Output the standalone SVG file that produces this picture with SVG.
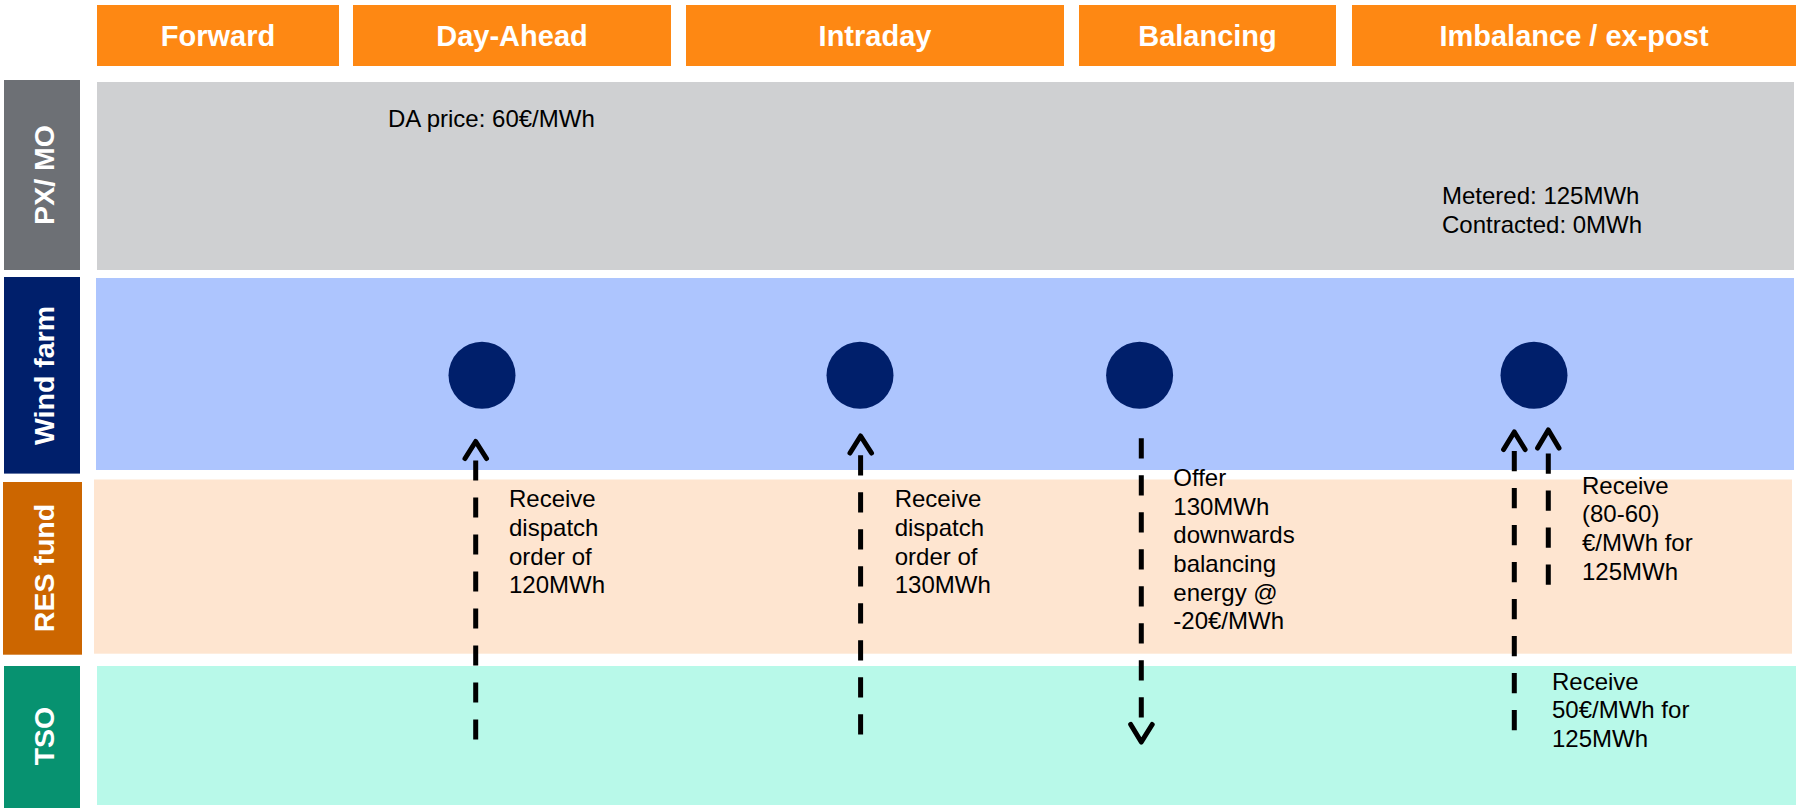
<svg xmlns="http://www.w3.org/2000/svg" width="1796" height="808" viewBox="0 0 1796 808">
<style>
.hdr{fill:#FE8813}
.ht{font-family:"Liberation Sans",Arial,sans-serif;font-weight:bold;font-size:29px;fill:#fff;text-anchor:middle}
.lt{font-family:"Liberation Sans",Arial,sans-serif;font-weight:bold;font-size:28.5px;fill:#fff;text-anchor:middle}
.bt{font-family:"Liberation Sans",Arial,sans-serif;font-size:24px;fill:#000}
.node{fill:#001F6B}
.dash{stroke:#000;stroke-width:5;fill:none;stroke-dasharray:20.2 16.8}
.head{stroke:#000;stroke-width:5;fill:none;stroke-linecap:round;stroke-linejoin:round}
</style>
<rect width="1796" height="808" fill="#fff"/>
<g id="phases">
<g id="ph-forward"><rect class="hdr" x="97" y="5" width="242" height="61"/><text class="ht" x="218" y="46">Forward</text></g>
<g id="ph-dayahead"><rect class="hdr" x="353" y="5" width="318" height="61"/><text class="ht" x="512" y="46">Day-Ahead</text></g>
<g id="ph-intraday"><rect class="hdr" x="686" y="5" width="378" height="61"/><text class="ht" x="875" y="46">Intraday</text></g>
<g id="ph-balancing"><rect class="hdr" x="1079" y="5" width="257" height="61"/><text class="ht" x="1207.5" y="46">Balancing</text></g>
<g id="ph-imbalance"><rect class="hdr" x="1352" y="5" width="444" height="61"/><text class="ht" x="1574" y="46">Imbalance / ex-post</text></g>
</g>
<g id="lane-pxmo">
<rect x="4" y="80" width="76" height="190" fill="#6D7075"/>
<rect x="97" y="82" width="1697" height="188" fill="#CFD0D2"/>
<text class="lt" transform="translate(54,175) rotate(-90)">PX/ MO</text>
<text class="bt" x="388" y="126.5">DA price: 60€/MWh</text>
<text class="bt" x="1442" y="203.5">Metered: 125MWh</text>
<text class="bt" x="1442" y="232.5">Contracted: 0MWh</text>
</g>
<g id="lane-wind">
<rect x="4" y="277" width="76" height="196.6" fill="#001F6B"/>
<rect x="96" y="278" width="1698" height="192" fill="#ADC5FE"/>
<text class="lt" transform="translate(54,375.5) rotate(-90)">Wind farm</text>
</g>
<g id="lane-res">
<rect x="3" y="482" width="79" height="172.7" fill="#CC6600"/>
<rect x="94" y="479.5" width="1698" height="174.2" fill="#FEE5D0"/>
<text class="lt" transform="translate(54,568) rotate(-90)">RES fund</text>
</g>
<g id="lane-tso">
<rect x="4" y="666" width="76" height="142" fill="#079270"/>
<rect x="97" y="666" width="1699" height="139" fill="#B8F9E9"/>
<text class="lt" transform="translate(54,736) rotate(-90)">TSO</text>
</g>
<g id="node-da"><circle class="node" cx="482" cy="375.3" r="33.5"/></g>
<g id="node-id"><circle class="node" cx="860" cy="375.3" r="33.5"/></g>
<g id="node-bal"><circle class="node" cx="1139.6" cy="375.3" r="33.5"/></g>
<g id="node-imb"><circle class="node" cx="1534" cy="375.3" r="33.5"/></g>
<g id="connectors">
<line class="dash" x1="475.7" y1="739.6" x2="475.7" y2="457.5"/>
<polyline class="head" points="465,458.5 475.7,441.5 486.5,458.5"/>
<line class="dash" x1="860.6" y1="734.5" x2="860.6" y2="453.4"/>
<polyline class="head" points="850,453 860.6,436 871.5,453"/>
<line class="dash" x1="1141.3" y1="438.2" x2="1141.3" y2="720"/>
<polyline class="head" points="1130.7,724.5 1141.3,742 1152.2,724.5"/>
<line class="dash" x1="1514.3" y1="730.2" x2="1514.3" y2="448.3"/>
<polyline class="head" points="1503.6,449.5 1514.3,432 1525.1,449.5"/>
<line class="dash" x1="1548.3" y1="584.7" x2="1548.3" y2="451.7"/>
<polyline class="head" points="1537.6,448 1548.3,430 1559,448"/>
</g>
<g id="labels">
<text class="bt"><tspan x="509" y="507.3">Receive</tspan><tspan x="509" y="535.9">dispatch</tspan><tspan x="509" y="564.5">order of</tspan><tspan x="509" y="593.1">120MWh</tspan></text>
<text class="bt"><tspan x="894.7" y="507.3">Receive</tspan><tspan x="894.7" y="535.9">dispatch</tspan><tspan x="894.7" y="564.5">order of</tspan><tspan x="894.7" y="593.1">130MWh</tspan></text>
<text class="bt"><tspan x="1173.3" y="486.1">Offer</tspan><tspan x="1173.3" y="514.7">130MWh</tspan><tspan x="1173.3" y="543.3">downwards</tspan><tspan x="1173.3" y="571.9">balancing</tspan><tspan x="1173.3" y="600.5">energy @</tspan><tspan x="1173.3" y="629.1">-20€/MWh</tspan></text>
<text class="bt"><tspan x="1582" y="493.8">Receive</tspan><tspan x="1582" y="522.4">(80-60)</tspan><tspan x="1582" y="551">€/MWh for</tspan><tspan x="1582" y="579.7">125MWh</tspan></text>
<text class="bt"><tspan x="1552" y="689.8">Receive</tspan><tspan x="1552" y="718.4">50€/MWh for</tspan><tspan x="1552" y="747">125MWh</tspan></text>
</g>
</svg>
